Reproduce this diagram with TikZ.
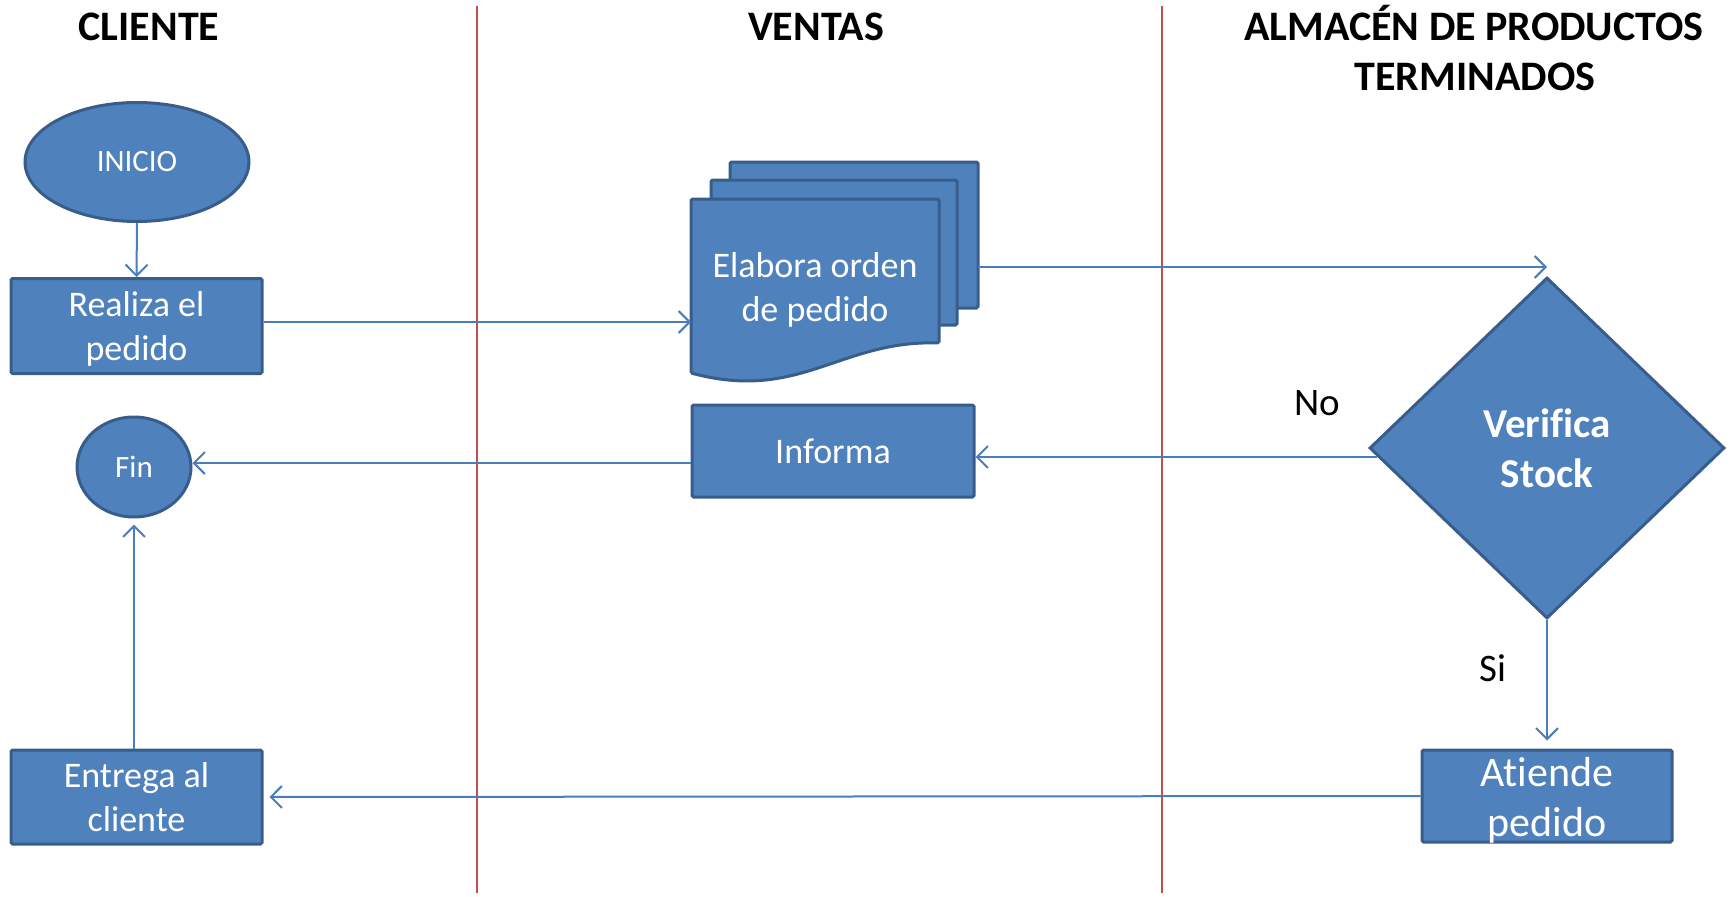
\documentclass[tikz,border=0pt]{standalone}
\usepackage{fontspec}
\setmainfont{Carlito}[Ligatures=CommonOff]
\usetikzlibrary{shapes.geometric,arrows.meta}
\definecolor{boxfill}{HTML}{4F81BD}
\definecolor{boxline}{HTML}{385D8A}
\definecolor{conn}{HTML}{4A7EBB}
\definecolor{lane}{HTML}{C0504D}
\tikzset{
  shp/.style={fill=boxfill,draw=boxline,line width=3pt,text=white,align=center,inner sep=0pt},
  boxn/.style={shp,rectangle,rounded corners=1.5pt},
  ovaln/.style={shp,ellipse},
  txt34/.style={font=\fontsize{36}{44}\selectfont},
  conn/.style={draw=conn,line width=2pt,-{Straight Barb[length=11pt,width=22pt,line width=2pt]}},
  lanel/.style={draw=lane,line width=2.2pt},
  header/.style={font=\fontsize{42}{50}\selectfont\bfseries,align=center,anchor=base},
  lbl/.style={font=\fontsize{39}{46}\selectfont,text=black}
}
\begin{document}
\begin{tikzpicture}[x=1pt,y=-1pt]
\useasboundingbox (0,0) rectangle (1730,897);
% lanes
\coordinate (l1t) at (477,6); \coordinate (l1b) at (477,893);
\coordinate (l2t) at (1162,6); \coordinate (l2b) at (1162,893);
\draw[lanel] (l1t) -- (l1b);
\draw[lanel] (l2t) -- (l2b);
% headers
\node[header] (h1) at (149,40) {CLIENTE};
\node[header] (h2) at (816,40) {VENTAS};
\node[header] (h3) at (1474,40) {ALMACÉN DE PRODUCTOS};
\node[header] (h3b) at (1475,90) {TERMINADOS};
% client lane
\node[ovaln,minimum width=224pt,minimum height=119pt,font=\fontsize{31}{36}\selectfont] (inicio) at (137,162) {INICIO};
\node[boxn,minimum width=251pt,minimum height=95pt] (realiza) at (136.5,326) {};
\node[text=white,align=center,txt34,inner sep=0pt] (rtxt) at (136.5,329) {Realiza el\\pedido};
\node[ovaln,minimum width=114pt,minimum height=100pt,font=\fontsize{31}{36}\selectfont] (fin) at (134,467) {Fin};
\node[boxn,minimum width=251pt,minimum height=94pt,txt34] (entrega) at (136.5,797) {Entrega al\\cliente};
% ventas lane: document stack
\draw[fill=boxfill,draw=boxline,line width=3pt,rounded corners=1.5pt] (730,162) rectangle (978,308);
\draw[fill=boxfill,draw=boxline,line width=3pt,rounded corners=1.5pt] (711,180) rectangle (957,325);
\draw[fill=boxfill,draw=boxline,line width=3pt,rounded corners=1.5pt] (691,199) -- (939,199) -- (939,343)
   .. controls (840,340) and (800,402) .. (691,373) -- cycle;
\node[text=white,align=center,txt34,inner sep=0pt] (orden) at (815,290) {Elabora orden\\de pedido};
\coordinate (docL) at (691,322);
\coordinate (docR) at (978,267);
\node[boxn,minimum width=282pt,minimum height=92pt,font=\fontsize{36}{42}\selectfont] (informa) at (833,451) {Informa};
% almacen lane
\node[shp,diamond,minimum width=355pt,minimum height=341pt,font=\fontsize{41}{50}\selectfont\bfseries] (verif) at (1547,448) {Verifica\\Stock};
\node[boxn,minimum width=250pt,minimum height=92pt] (atiende) at (1547,796) {};
\node[text=white,align=center,font=\fontsize{42}{50}\selectfont,inner sep=0pt] (atxt) at (1547,800) {Atiende\\pedido};
\node[lbl] (no) at (1317,403) {No};
\node[lbl] (si) at (1493,668) {Si};
% connectors
\draw[conn] (inicio.south) -- (realiza.north);
\draw[conn] (realiza.east |- docL) -- (docL);
\draw[conn] (docR) -- (verif.north |- docR);
\coordinate (noS) at ([yshift=-9pt,xshift=9pt]verif.west);
\draw[conn] (noS) -- (informa.east |- noS);
\coordinate (infL) at ([yshift=-12pt]informa.west);
\draw[conn] (infL) -- (fin.east |- infL);
\draw[conn,shorten >=8pt] (verif.south) -- (atiende.north);
\draw[conn,shorten >=6pt] (atiende.west) -- (entrega.east);
\draw[conn,shorten >=6pt] (entrega.north -| fin.south) -- (fin.south);
\end{tikzpicture}
\end{document}
